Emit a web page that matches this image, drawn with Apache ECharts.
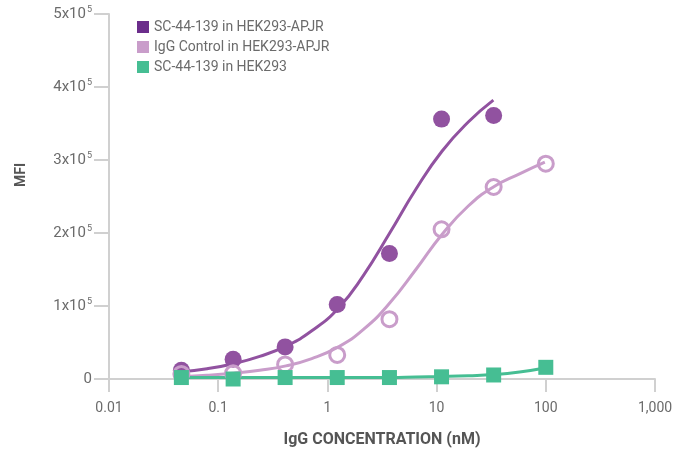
<!DOCTYPE html>
<html>
<head>
<meta charset="utf-8">
<script src="https://cdn.jsdelivr.net/npm/echarts@6/dist/echarts.min.js"></script>
<style>
  html, body { margin: 0; padding: 0; background: #fff; }
  #chart { width: 689px; height: 454px; }
</style>
</head>
<body>
<div id="chart"></div>
<script>
// 图例名称
const seriesNames = ['SC-44-139 in HEK293-APJR', 'IgG Control in HEK293-APJR', 'SC-44-139 in HEK293'];

// 浓度 (nM)
const concApjr = [0.046, 0.137, 0.41, 1.23, 3.7, 11.1, 33.3];
const concIgg = [0.046, 0.137, 0.41, 1.23, 3.7, 11.1, 33.3, 100];
const concHek = [0.046, 0.137, 0.41, 1.23, 3.7, 11.1, 33.3, 100];

// 测量值 MFI
const mfiApjr = [12000, 27000, 44000, 102000, 172000, 356000, 361000];
const mfiIgg = [7000, 8000, 20000, 33000, 82000, 205000, 263000, 295000];
const mfiHek = [2000, 0, 2000, 2000, 2000, 3000, 5500, 16000];

// 拟合曲线
const fitApjrX = [0.046, 0.079, 0.138, 0.24, 0.417, 0.72, 1.26, 2.14, 3.72, 6.46, 11.2, 19.5, 33.1];
const fitApjrY = [10000, 14000, 21000, 31000, 45000, 66000, 97000, 142000, 200000, 260000, 312000, 352000, 382000];
const fitIggX = [0.046, 0.079, 0.138, 0.24, 0.417, 0.72, 1.26, 2.14, 3.72, 6.46, 11.2, 19.5, 33.1, 57.5, 98];
const fitIggY = [3000, 5000, 8000, 12000, 18000, 28000, 44000, 68000, 104000, 150000, 198000, 237000, 263000, 281000, 297000];
const fitHekX = [0.046, 0.138, 0.417, 1.26, 3.72, 6.46, 11.2, 19.5, 33.1, 57.5, 98];
const fitHekY = [2000, 2000, 2000, 2000, 2200, 2800, 3500, 4500, 6000, 9500, 15000];

const yTicks = [0, 100000, 200000, 300000, 400000, 500000];

const colors = {
    apjr: '#9152a0',
    apjrLegend: '#6b2d8b',
    igg: '#c99dca',
    hek: '#46be93'
};

const zip = (xs, ys) => xs.map((x, i) => [x, ys[i]]);

const chart = echarts.init(document.getElementById('chart'));
const fontFamily = 'Roboto, "Noto Sans", sans-serif';
const labelColor = '#6b6b6b';

chart.setOption({
    animation: false,
    textStyle: { fontFamily },
    grid: { left: 109, right: 34, top: 14, bottom: 75 },
    legend: {
        orient: 'vertical',
        left: 132,
        top: 15,
        itemWidth: 12,
        itemHeight: 12,
        itemGap: 6,
        icon: 'rect',
        textStyle: { color: labelColor, fontSize: 14, fontFamily },
        data: [
            { name: seriesNames[0], itemStyle: { color: colors.apjrLegend, borderWidth: 0 } },
            { name: seriesNames[1], itemStyle: { color: colors.igg, borderWidth: 0 } },
            { name: seriesNames[2], itemStyle: { color: colors.hek, borderWidth: 0 } }
        ]
    },
    xAxis: {
        type: 'log',
        logBase: 10,
        min: 0.01,
        max: 1000,
        axisLine: { lineStyle: { color: '#d0d0d0', width: 2 } },
        axisTick: { show: true, length: 13, lineStyle: { color: '#d0d0d0', width: 2 } },
        splitLine: { show: false },
        minorTick: { show: false },
        axisLabel: {
            color: labelColor,
            fontSize: 14,
            margin: 22,
            formatter: v => (+(+v).toPrecision(3)).toLocaleString('en-US', { maximumFractionDigits: 3 })
        }
    },
    yAxis: {
        type: 'value',
        min: yTicks[0],
        max: yTicks[yTicks.length - 1],
        interval: 100000,
        axisLine: { show: true, lineStyle: { color: '#d0d0d0', width: 2 } },
        axisTick: { show: true, length: 15, lineStyle: { color: '#d0d0d0', width: 2 } },
        splitLine: { show: false },
        axisLabel: {
            color: labelColor,
            fontSize: 15,
            margin: 17,
            formatter: v => v === 0 ? '{a|0}' : '{a|' + (v / 100000) + 'x10}{s|5}',
            rich: {
                a: { color: labelColor, fontSize: 15, fontFamily },
                s: { color: labelColor, fontSize: 9, fontFamily, padding: [0, 0, 8, 1] }
            }
        }
    },
    graphic: [
        {
            type: 'text',
            x: 21,
            y: 175,
            rotation: Math.PI / 2,
            style: {
                text: 'MFI',
                fill: '#555',
                font: 'bold 14px ' + fontFamily,
                textAlign: 'center',
                textVerticalAlign: 'middle'
            }
        },
        {
            type: 'text',
            x: 382,
            y: 440,
            style: {
                text: 'IgG CONCENTRATION (nM)',
                fill: '#555',
                font: 'bold 16px ' + fontFamily,
                textAlign: 'center',
                textVerticalAlign: 'middle'
            }
        }
    ],
    series: [
        {
            name: seriesNames[0],
            type: 'line',
            smooth: true,
            showSymbol: false,
            data: zip(fitApjrX, fitApjrY),
            lineStyle: { color: colors.apjr, width: 3 },
            itemStyle: { color: colors.apjr },
            z: 2
        },
        {
            name: seriesNames[1],
            type: 'line',
            smooth: true,
            showSymbol: false,
            data: zip(fitIggX, fitIggY),
            lineStyle: { color: colors.igg, width: 3 },
            itemStyle: { color: colors.igg },
            z: 2
        },
        {
            name: seriesNames[2],
            type: 'line',
            smooth: true,
            showSymbol: false,
            data: zip(fitHekX, fitHekY),
            lineStyle: { color: colors.hek, width: 3 },
            itemStyle: { color: colors.hek },
            z: 2
        },
        {
            name: seriesNames[0],
            type: 'scatter',
            symbol: 'circle',
            symbolSize: 17,
            data: zip(concApjr, mfiApjr),
            itemStyle: { color: colors.apjr, opacity: 1 },
            z: 3
        },
        {
            name: seriesNames[1],
            type: 'scatter',
            symbol: 'circle',
            symbolSize: 15,
            data: zip(concIgg, mfiIgg),
            itemStyle: { color: 'rgba(255,255,255,0)', borderColor: colors.igg, borderWidth: 3, opacity: 1 },
            z: 4
        },
        {
            name: seriesNames[2],
            type: 'scatter',
            symbol: 'rect',
            symbolSize: 15,
            data: zip(concHek, mfiHek),
            itemStyle: { color: colors.hek, opacity: 1 },
            z: 5
        }
    ]
});

window.addEventListener('resize', () => chart.resize());
</script>
</body>
</html>
